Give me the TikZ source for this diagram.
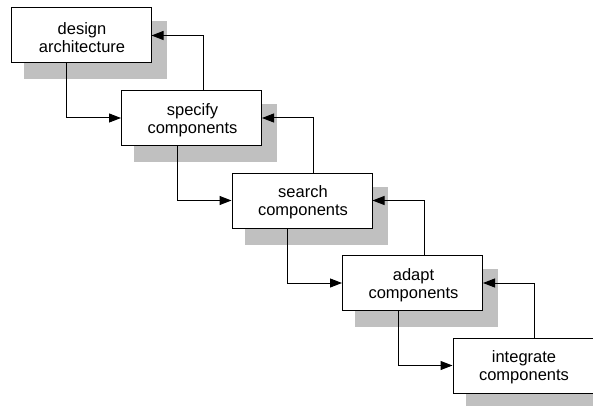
\documentclass[tikz,border=0pt]{standalone}
\usepackage{fontspec}
\setmainfont{Liberation Sans}
\usetikzlibrary{arrows.meta,calc}
\definecolor{shadowgray}{RGB}{192,192,192}
\tikzset{
  stepbox/.style={draw=black, fill=white, line width=1pt, minimum width=140pt,
    minimum height=55pt, inner sep=0pt},
  steptext/.style={inner sep=0pt, align=center,
    font=\fontsize{16.5pt}{18pt}\selectfont},
  flow/.style={draw=black, line width=1pt, -{Triangle[length=12pt,width=9pt]}},
}
\newcommand{\dropshadow}[1]{%
  \fill[shadowgray] ($(#1.north west)+(13,14)$) rectangle ($(#1.south east)+(15,16)$);}
\begin{document}
\begin{tikzpicture}[x=1pt,y=-1pt]
\useasboundingbox (0,0) rectangle (593,406);
\clip (0,0) rectangle (593,406);
% box positions (centres)
\coordinate (c1) at (81,35.5);
\coordinate (c2) at (191.5,118);
\coordinate (c3) at (302,200.5);
\coordinate (c4) at (412.5,283);
\coordinate (c5) at (523,365.5);
% shadows first, then the white boxes on top
\foreach \i in {1,...,5} {
  \node[stepbox, draw=none, fill=none] (s\i) at (c\i) {};
  \dropshadow{s\i}
}
\foreach \i in {1,...,5} {
  \node[stepbox] (b\i) at (c\i) {};
}
% step labels
\node[steptext] (t1) at ($(b1.center)+(1,2)$) {design\\architecture};
\node[steptext] (t2) at ($(b2.center)+(1,2)$) {specify\\components};
\node[steptext] (t3) at ($(b3.center)+(1,2)$) {search\\components};
\node[steptext] (t4) at ($(b4.center)+(1,2)$) {adapt\\components};
\node[steptext] (t5) at ($(b5.center)+(1,2)$) {integrate\\components};
% forward flow and feedback loops
\foreach \a/\b in {b1/b2,b2/b3,b3/b4,b4/b5} {
  \draw[flow] ($(\a.south west)+(56,0)$) |- (\b.west);
  \draw[flow] ($(\b.north west)+(82,0)$) |- (\a.east);
}
\end{tikzpicture}
\end{document}
